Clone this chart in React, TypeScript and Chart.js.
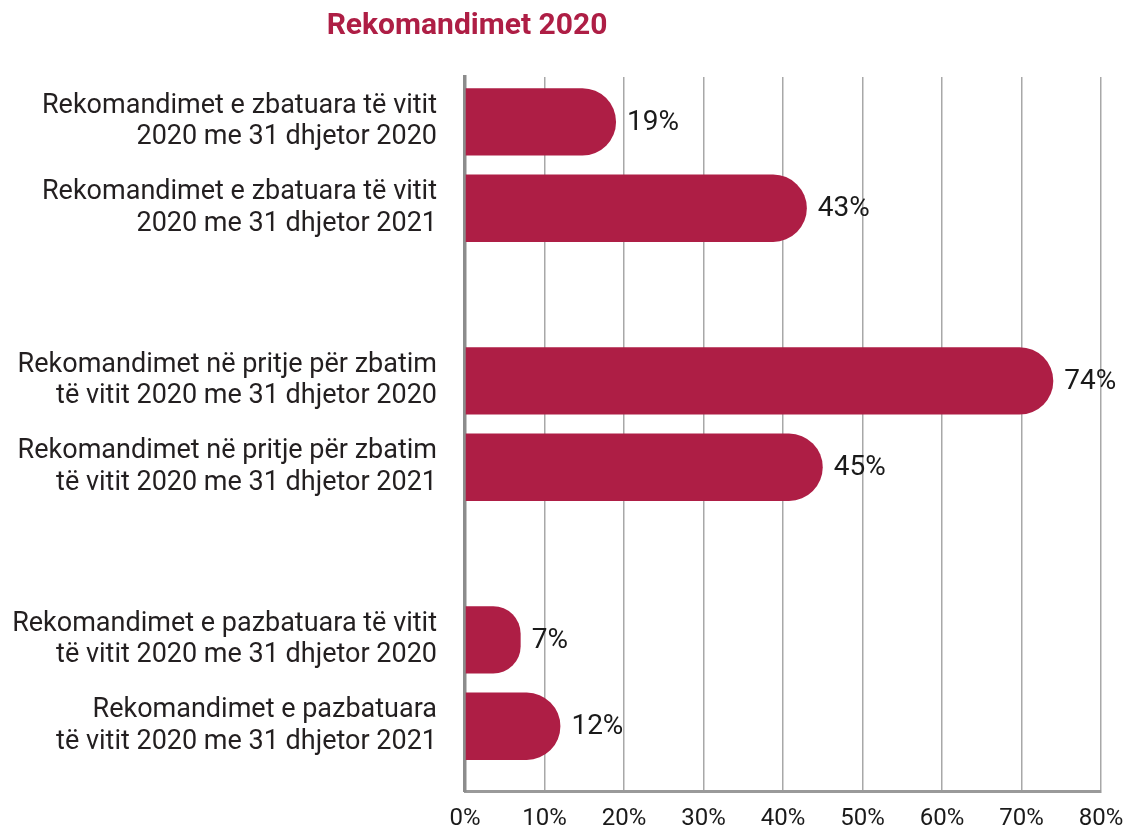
import React, { useEffect, useRef } from "react";
import { Chart, registerables } from "chart.js";

Chart.register(...registerables);

const TITLE = "Rekomandimet 2020";

// Slots (gaps are empty label lists / null values)
const categoryLines: string[][] = [
  ["Rekomandimet e zbatuara të vitit", "2020 me 31 dhjetor 2020"],
  ["Rekomandimet e zbatuara të vitit", "2020 me 31 dhjetor 2021"],
  [],
  ["Rekomandimet në pritje për zbatim", "të vitit 2020 me 31 dhjetor 2020"],
  ["Rekomandimet në pritje për zbatim", "të vitit 2020 me 31 dhjetor 2021"],
  [],
  ["Rekomandimet e pazbatuara të vitit", "të vitit 2020 me 31 dhjetor 2020"],
  ["Rekomandimet e pazbatuara", "të vitit 2020 me 31 dhjetor 2021"],
];

const values: (number | null)[] = [19, 43, null, 74, 45, null, 7, 12];

const xTickValues = [0, 10, 20, 30, 40, 50, 60, 70, 80];

const BAR_COLOR = "#AE1E45";
const FONT = "Roboto, 'Noto Sans', sans-serif";

export default function App() {
  const canvasRef = useRef<HTMLCanvasElement | null>(null);

  useEffect(() => {
    if (!canvasRef.current) return;

    const points = values
      .map((v, i) => (v === null ? null : { x: v, y: i }))
      .filter((p) => p !== null) as { x: number; y: number }[];

    const titlePlugin = {
      id: "customTitle",
      afterDraw(chart: any) {
        const { ctx, chartArea } = chart;
        ctx.save();
        ctx.font = `bold 30px ${FONT}`;
        ctx.fillStyle = BAR_COLOR;
        ctx.textAlign = "center";
        ctx.textBaseline = "middle";
        ctx.fillText(TITLE, chartArea.left + 2, 26);
        ctx.restore();
      },
    };

    const valueLabelPlugin = {
      id: "valueLabels",
      afterDatasetsDraw(chart: any) {
        const { ctx } = chart;
        const meta = chart.getDatasetMeta(0);
        ctx.save();
        ctx.font = `28px ${FONT}`;
        ctx.fillStyle = "#1a1a1a";
        ctx.textAlign = "left";
        ctx.textBaseline = "middle";
        meta.data.forEach((bar: any, idx: number) => {
          const p = points[idx];
          ctx.fillText(`${p.x}%`, bar.x + 11, bar.y + 1);
        });
        ctx.restore();
      },
    };

    const zeroPad = (scale: any) => {
      scale.paddingTop = 0;
      scale.paddingBottom = 0;
      scale.paddingLeft = 0;
      scale.paddingRight = 0;
    };

    const chart = new Chart(canvasRef.current, {
      type: "bar",
      data: {
        datasets: [
          {
            data: points as any,
            backgroundColor: BAR_COLOR,
            borderWidth: 0,
            borderRadius: 200,
            borderSkipped: "start",
            barPercentage: 0.78,
            categoryPercentage: 1,
          },
        ],
      },
      options: {
        indexAxis: "y",
        animation: false,
        responsive: false,
        layout: { padding: { top: 77, right: 29, bottom: 0, left: 0 } },
        plugins: {
          legend: { display: false },
          title: { display: false },
          tooltip: { enabled: false },
        },
        scales: {
          x: {
            type: "linear",
            min: 0,
            max: 80,
            offset: false,
            afterBuildTicks: (scale: any) => {
              scale.ticks = xTickValues.map((v) => ({ value: v }));
            },
            afterFit: (scale: any) => {
              scale.height = 40;
              zeroPad(scale);
            },
            grid: {
              color: "#a8a8a8",
              lineWidth: 1.5,
              drawTicks: false,
              offset: false,
            },
            border: { display: true, color: "#9a9a9a", width: 3 },
            ticks: {
              padding: 14,
              color: "#1a1a1a",
              font: { family: FONT, size: 24 },
              callback: (v: any) => `${v}%`,
            },
          },
          y: {
            type: "linear",
            reverse: true,
            min: -0.52,
            max: 7.75,
            offset: false,
            bounds: "data",
            afterBuildTicks: (scale: any) => {
              scale.ticks = categoryLines.map((_, i) => ({ value: i }));
            },
            afterFit: (scale: any) => {
              scale.width = 465;
              zeroPad(scale);
            },
            grid: { display: false, drawTicks: false, offset: false },
            border: { display: true, color: "#8c8c8c", width: 3.5 },
            ticks: {
              autoSkip: false,
              padding: 28,
              color: "#231f20",
              font: { family: FONT, size: 27, lineHeight: 1.15 },
              callback: (v: any) => {
                const lines = categoryLines[v as number];
                return lines && lines.length ? lines : "";
              },
            },
          },
        },
      },
      plugins: [titlePlugin, valueLabelPlugin],
    });

    return () => chart.destroy();
  }, []);

  return (
    <div
      style={{
        position: "fixed",
        left: 0,
        top: 0,
        width: 1130,
        height: 831,
        background: "#ffffff",
      }}
    >
      <canvas ref={canvasRef} width={1130} height={831} />
    </div>
  );
}
